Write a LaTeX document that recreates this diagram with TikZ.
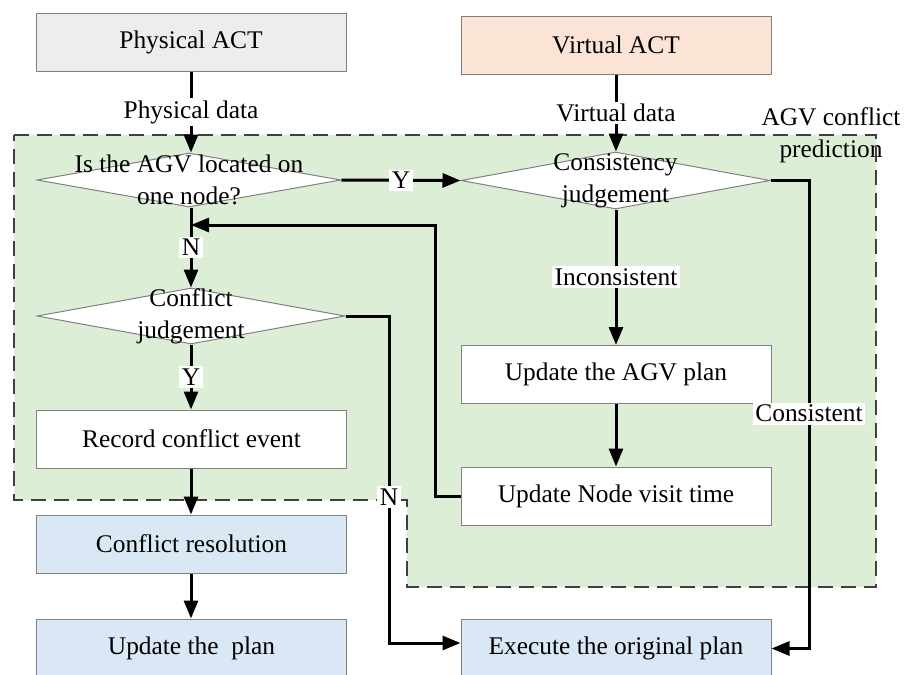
\documentclass[tikz,border=0pt]{standalone}
\usepackage{fontspec}
\setmainfont{Liberation Serif}
\usetikzlibrary{arrows.meta,shapes.geometric,calc}
\definecolor{bordergray}{RGB}{128,128,128}
\definecolor{physfill}{RGB}{237,237,237}
\definecolor{virtfill}{RGB}{251,228,214}
\definecolor{regionfill}{RGB}{221,238,214}
\definecolor{bluefill}{RGB}{218,232,245}
\definecolor{dashgray}{RGB}{64,64,64}
\tikzset{
  txt/.style={font=\fontsize{12.7}{16}\selectfont},
  box/.style={txt, draw=bordergray, line width=0.5pt, rectangle, minimum width=155pt, minimum height=29pt, inner sep=0pt},
  dia/.style={draw=bordergray, fill=white, line width=0.5pt, diamond, inner sep=0pt},
  diatext/.style={txt, align=center, inner sep=0pt},
  arr/.style={line width=1.5pt, -{Triangle[length=9pt,width=7pt]}},
  lbl/.style={txt, fill=white, inner sep=1.2pt},
  region/.style={fill=regionfill, draw=dashgray, line width=0.8pt, dash pattern=on 7.5pt off 4pt}
}
\begin{document}
\begin{tikzpicture}[x=0.5pt,y=-0.5pt]
\useasboundingbox (0,0) rectangle (907,675);
% region
\path[region] (14,135) -- (876,135) -- (876,587) -- (407,587) -- (407,500) -- (14,500) -- cycle;
\node[txt, align=center, inner sep=0pt] (title) at (831,135) {AGV conflict\\prediction};
% top boxes
\node[box, fill=physfill] (pa) at (191,42) {Physical ACT};
\node[box, fill=virtfill] (va) at (616,45) {Virtual ACT};
% diamonds
\node[dia, minimum width=152pt, minimum height=27pt] (d1) at (189,180) {};
\node[diatext] (d1t) at (d1.center) {Is the AGV located on\\one node?};
\node[dia, minimum width=154.5pt, minimum height=28.5pt] (d2) at (615.5,180.5) {};
\node[diatext] (d2t) at (d2.center) {Consistency\\judgement};
\node[dia, minimum width=154pt, minimum height=28pt] (d3) at (191,316) {};
\node[diatext] (d3t) at (d3.center) {Conflict\\judgement};
% boxes
\node[box, fill=white] (rec) at (191.5,439) {Record conflict event};
\node[box, fill=bluefill] (cr) at (191.5,544) {Conflict resolution};
\node[box, fill=bluefill] (up) at (191.5,648) {Update the\ \ plan};
\node[box, fill=white] (ua) at (616,374.5) {Update the AGV plan};
\node[box, fill=white] (un) at (616,496) {Update Node visit time};
\node[box, fill=bluefill] (ex) at (616,648.5) {Execute the original plan};
% coordinates
\coordinate (c1) at (809,180.5);
\coordinate (c2) at (809,648.5);
\coordinate (n1) at (389,316);
\coordinate (n2) at (389,643);
\coordinate (f1) at (435,496);
\coordinate (f2) at (435,225);
\coordinate (f3) at (191,225);
% connectors
\draw[arr] (pa.south) -- node[lbl]{Physical data} (d1.north -| pa.south);
\draw[arr] (va.south) -- node[lbl]{Virtual data} (d2.north -| va.south);
\draw[arr] (d1.east) -- node[lbl]{Y} (d2.west);
\draw[arr] (f3 |- d1.south) -- node[lbl, pos=0.5]{N} (d3.north);
\draw[arr] (d3.south) -- node[lbl]{Y} (d3.south |- rec.north);
\draw[arr] (rec.south -| d3.south) -- (cr.north -| d3.south);
\draw[arr] (cr.south -| d3.south) -- (up.north -| d3.south);
\draw[arr] (d2.south -| va.south) -- node[lbl]{Inconsistent} (ua.north);
\draw[arr] (ua.south) -- (un.north);
\draw[arr] (un.west) -- (f1) -- (f2) -- (f3);
\draw[arr] (d3.east) -- (n1) -- node[lbl, pos=0.553]{N} (n2) -- (ex.west |- n2);
\draw[arr] (d2.east) -- (c1) -- node[lbl, pos=0.498]{Consistent} (c2) -- (ex.east);
\end{tikzpicture}
\end{document}
